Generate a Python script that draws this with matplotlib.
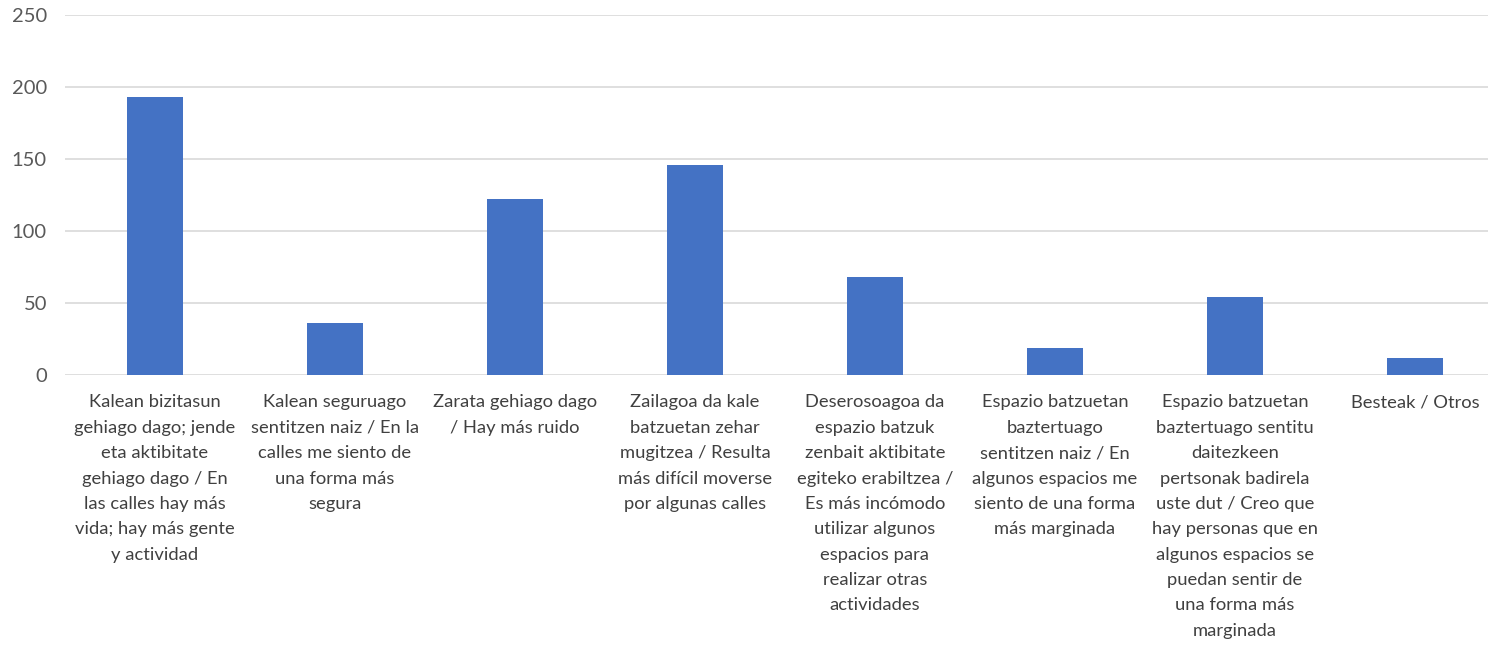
import matplotlib.pyplot as plt
import numpy as np

# categories as they are wrapped in the chart
categories = [
    "Kalean bizitasun\ngehiago dago; jende\neta aktibitate\ngehiago dago / En\nlas calles hay más\nvida; hay más gente\ny actividad",
    "Kalean seguruago\nsentitzen naiz / En la\ncalles me siento de\nuna forma más\nsegura",
    "Zarata gehiago dago\n/ Hay más ruido",
    "Zailagoa da kale\nbatzuetan zehar\nmugitzea / Resulta\nmás difícil moverse\npor algunas calles",
    "Deserosoagoa da\nespazio batzuk\nzenbait aktibitate\negiteko erabiltzea /\nEs más incómodo\nutilizar algunos\nespacios para\nrealizar otras\nactividades",
    "Espazio batzuetan\nbaztertuago\nsentitzen naiz / En\nalgunos espacios me\nsiento de una forma\nmás marginada",
    "Espazio batzuetan\nbaztertuago sentitu\ndaitezkeen\npertsonak badirela\nuste dut / Creo que\nhay personas que en\nalgunos espacios se\npuedan sentir de\nuna forma más\nmarginada",
    "Besteak / Otros",
]
values = [193, 36, 122, 146, 68, 19, 54, 12]
y_ticks = [0, 50, 100, 150, 200, 250]

plt.rcParams['font.family'] = ['Lato', 'DejaVu Sans']

fig = plt.figure(figsize=(14.88, 6.46), dpi=100)
ax = fig.add_axes([65 / 1488, (646 - 375) / 646, 1 - 65 / 1488, 360 / 646])

x = np.arange(len(values))
ax.bar(x, values, width=0.31, color='#4472C4', zorder=3)

ax.set_ylim(0, 250)
ax.set_xlim(-0.5, 7.5 - 17 / 180)
ax.set_yticks(y_ticks)
ax.set_yticklabels([str(t) for t in y_ticks], fontsize=14.5, color='#595959')
ax.grid(axis='y', color='#d9d9d9', linewidth=1.2, zorder=0)
ax.tick_params(axis='y', length=0, pad=13)
ax.tick_params(axis='x', length=0, pad=14)
ax.set_xticks(x)
ax.set_xticklabels(categories, fontsize=13.2, color='#404040', linespacing=1.72, va='top')
for side in ['top', 'right', 'left', 'bottom']:
    ax.spines[side].set_visible(False)

fig.savefig('out.png', dpi=100)
